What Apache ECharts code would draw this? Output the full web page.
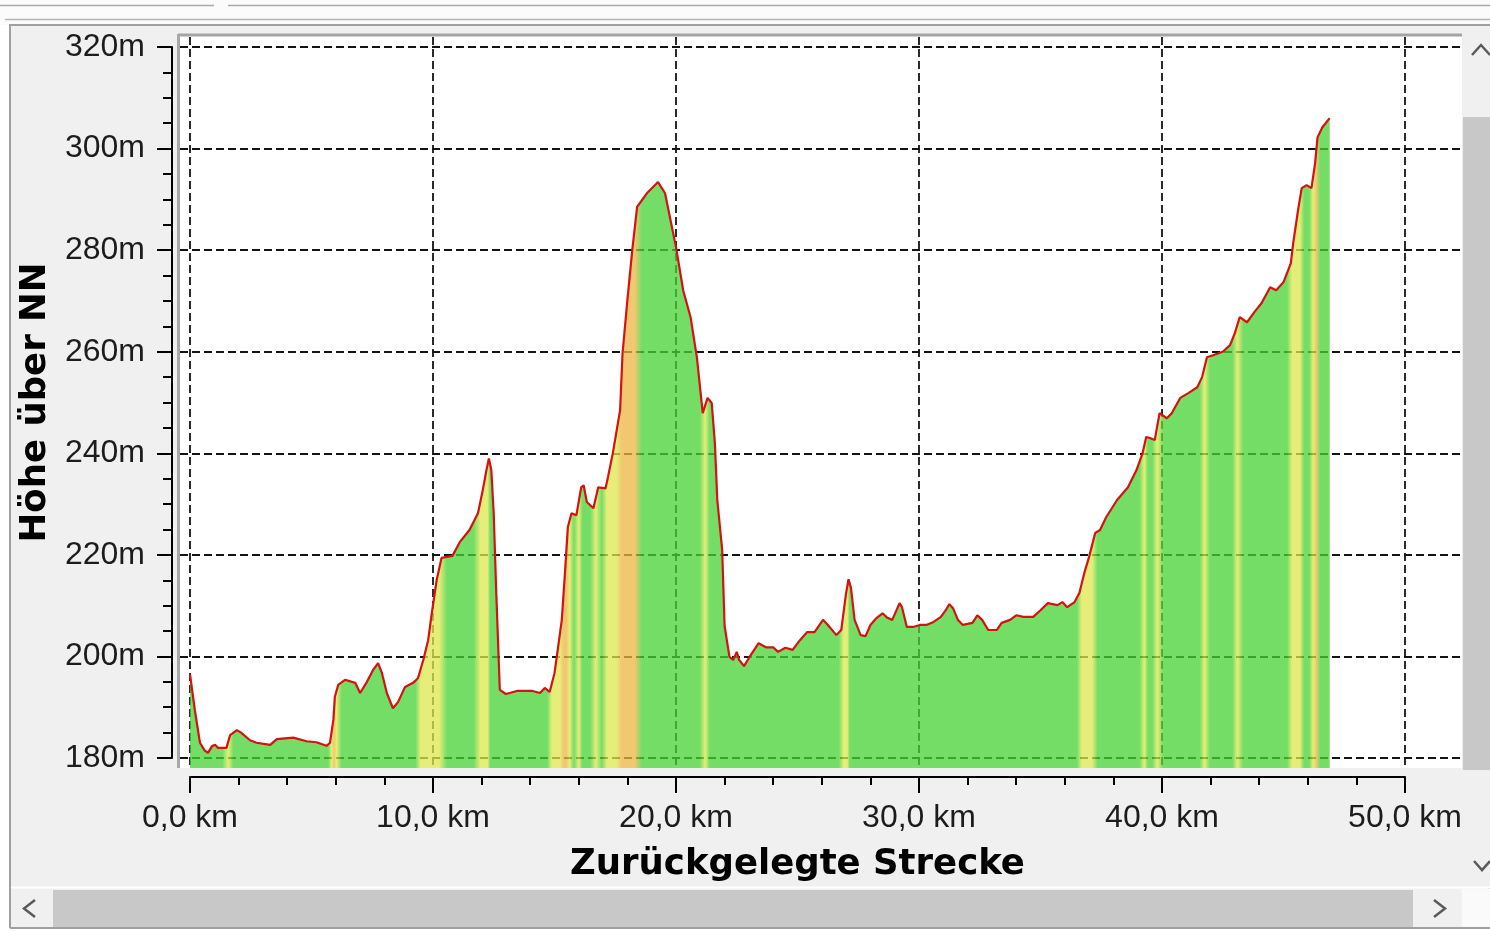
<!DOCTYPE html>
<html>
<head>
<meta charset="utf-8">
<title>Höhenprofil</title>
<script src="https://cdn.jsdelivr.net/npm/echarts@6/dist/echarts.min.js"></script>
<style>
  html, body { margin: 0; padding: 0; background: #fff; }
  #chart { width: 1490px; height: 931px; }
</style>
</head>
<body>
<div id="chart"></div>
<script>
// Streckenprofil: zurückgelegte Strecke (km) und Höhe über NN (m)
const distKm = [
  0.0, 0.2, 0.41, 0.6, 0.74, 0.9, 1.03, 1.16, 1.5, 1.65, 1.93, 2.1, 2.47, 2.74, 3.3, 3.57,
  4.25, 4.8, 5.2, 5.62, 5.76, 5.9, 5.96, 6.1, 6.38, 6.8, 7.0, 7.28, 7.53, 7.74, 7.9, 8.1,
  8.35, 8.56, 8.85, 9.18, 9.38, 9.6, 9.8, 9.95, 10.15, 10.35, 10.8, 11.1, 11.5, 11.85, 12.05, 12.2,
  12.3, 12.4, 12.5, 12.6, 12.75, 13.0, 13.45, 14.1, 14.4, 14.6, 14.8, 15.0, 15.15, 15.3, 15.43, 15.55,
  15.7, 15.9, 16.1, 16.2, 16.33, 16.6, 16.8, 17.1, 17.2, 17.4, 17.7, 17.8, 18.0, 18.2, 18.4, 18.8,
  19.26, 19.55, 19.8, 20.0, 20.3, 20.6, 20.86, 21.1, 21.3, 21.47, 21.6, 21.7, 21.9, 22.0, 22.2, 22.35,
  22.5, 22.6, 22.8, 23.0, 23.4, 23.7, 24.0, 24.2, 24.5, 24.8, 25.1, 25.4, 25.7, 26.05, 26.25, 26.6,
  26.8, 27.0, 27.1, 27.2, 27.35, 27.6, 27.8, 28.0, 28.26, 28.5, 28.7, 28.9, 29.2, 29.3, 29.5, 29.75,
  30.04, 30.3, 30.6, 30.9, 31.1, 31.25, 31.4, 31.6, 31.8, 32.2, 32.4, 32.6, 32.85, 33.2, 33.4, 33.75,
  34.0, 34.3, 34.7, 35.0, 35.3, 35.7, 35.9, 36.1, 36.4, 36.6, 36.8, 37.0, 37.25, 37.45, 37.7, 38.15,
  38.6, 38.95, 39.2, 39.35, 39.5, 39.7, 39.9, 40.2, 40.4, 40.75, 41.1, 41.45, 41.65, 41.85, 42.1, 42.5,
  42.8, 43.0, 43.2, 43.5, 43.8, 44.1, 44.45, 44.7, 45.0, 45.3, 45.4, 45.6, 45.75, 45.95, 46.15, 46.3,
  46.4, 46.6, 46.9
];
const elevM = [
  196.5, 189.4, 183.0, 181.5, 181.0, 182.3, 182.6, 182.0, 182.0, 184.5, 185.5, 185.0, 183.5, 183.0, 182.6, 183.7,
  184.0, 183.3, 183.1, 182.4, 183.0, 187.5, 192.0, 194.4, 195.4, 194.8, 192.8, 195.0, 197.3, 198.7, 196.7, 192.8,
  189.8, 191.0, 194.0, 194.8, 195.7, 199.3, 203.2, 208.5, 215.0, 219.4, 219.8, 222.5, 224.9, 228.2, 232.8, 236.7,
  239.0, 236.7, 228.0, 213.0, 193.4, 192.6, 193.2, 193.2, 192.8, 193.8, 193.0, 196.7, 201.9, 207.2, 216.4, 225.5,
  228.2, 227.8, 233.3, 233.7, 230.4, 229.2, 233.3, 233.1, 235.3, 240.0, 248.5, 259.7, 270.2, 280.0, 288.5, 291.2,
  293.4, 291.2, 285.3, 280.6, 272.0, 266.8, 258.9, 247.9, 250.9, 249.9, 242.0, 230.8, 221.0, 206.0, 199.9, 199.3,
  200.9, 199.3, 198.1, 199.7, 202.6, 201.8, 201.8, 200.9, 201.7, 201.3, 203.2, 204.8, 204.8, 207.2, 206.2, 204.2,
  205.2, 212.5, 215.2, 213.5, 207.2, 204.2, 204.0, 206.2, 207.6, 208.5, 207.6, 207.2, 210.5, 209.7, 205.8, 205.8,
  206.2, 206.2, 206.8, 207.8, 209.1, 210.3, 209.5, 207.2, 206.2, 206.6, 208.1, 207.2, 205.2, 205.2, 206.6, 207.2,
  208.1, 207.8, 207.8, 209.1, 210.5, 210.1, 210.7, 209.7, 210.7, 212.5, 216.4, 219.6, 224.3, 224.9, 227.4, 230.8,
  233.3, 236.7, 240.0, 243.2, 243.0, 242.6, 247.9, 246.9, 247.9, 250.9, 251.9, 253.0, 255.0, 258.9, 259.3, 260.0,
  261.3, 263.7, 266.8, 265.8, 267.8, 269.6, 272.7, 272.1, 273.7, 277.4, 281.4, 287.9, 292.2, 292.8, 292.2, 297.1,
  302.2, 304.2, 306.0
];
// Achsen
const xRange = [0, 50];
const xStep = 10;
const yRange = [180, 320];
const yStep = 20;

// Pixel-Layout des Diagramms
const plotLeft = 180, plotRight = 1462, plotTop = 37, plotBottom = 768;
const x0px = 190, x50px = 1405, yTopPx = 47, yBottomPx = 758;
const pxPerM = (yBottomPx - yTopPx) / (yRange[1] - yRange[0]);
const dataYMin = yRange[0] - (plotBottom - yBottomPx) / pxPerM;
const dataYMax = yRange[1] + (yTopPx - plotTop) / pxPerM;

// Farbe der Fläche nach Steigung (%)
function gradeColor(g) {
  if (g > 4) return '#ecb640';
  if (g > 1.5) return '#dde84c';
  return '#46d232';
}
const xEnd = distKm[distKm.length - 1];
const stops = [];
for (let i = 0; i < distKm.length - 1; i++) {
  const grade = (elevM[i + 1] - elevM[i]) / ((distKm[i + 1] - distKm[i]) * 1000) * 100;
  const c = gradeColor(grade);
  if (i === 0) stops.push({ offset: 0, color: c });
  stops.push({ offset: ((distKm[i] + distKm[i + 1]) / 2) / xEnd, color: c });
  if (i === distKm.length - 2) stops.push({ offset: 1, color: c });
}

const fmtKm = v => v.toFixed(1).replace('.', ',') + ' km';
const labelFont = { fontFamily: 'Liberation Sans', fontSize: 32, color: '#1c1c1c' };
const nameFont = { fontFamily: 'DejaVu Sans', fontWeight: 'bold', fontSize: 35.5, color: '#000' };
const dash = { color: '#141414', width: 1.8, type: [8, 4] };

const chevron = (pts) => ({
  type: 'polyline', z: 101,
  shape: { points: pts },
  style: { stroke: '#5a5a5a', lineWidth: 2.5, fill: null }
});

const chrome = [
  // Fensterrahmen oben
  { type: 'rect', z: -2, shape: { x: 0, y: 0, width: 1490, height: 25 }, style: { fill: '#fbfbfb' } },
  { type: 'line', z: -1, shape: { x1: 0, y1: 5.5, x2: 214, y2: 5.5 }, style: { stroke: '#a8a8a8', lineWidth: 1.5 } },
  { type: 'line', z: -1, shape: { x1: 228, y1: 5.5, x2: 1490, y2: 5.5 }, style: { stroke: '#a8a8a8', lineWidth: 1.5 } },
  { type: 'line', z: -1, shape: { x1: 5, y1: 19.5, x2: 1490, y2: 19.5 }, style: { stroke: '#b4b4b4', lineWidth: 1.5 } },
  // Panel
  { type: 'rect', z: -2, shape: { x: 10, y: 25, width: 1480, height: 903 }, style: { fill: '#f0f0f0', stroke: '#a0a0a0', lineWidth: 2 } },
  // weiße Zeichenfläche
  { type: 'rect', z: -1, shape: { x: plotLeft, y: 35, width: plotRight - plotLeft, height: plotBottom - 35 }, style: { fill: '#ffffff' } },
  { type: 'line', z: -1, shape: { x1: 178, y1: 35, x2: plotRight, y2: 35 }, style: { stroke: '#a4a4a4', lineWidth: 3 } },
  { type: 'line', z: -1, shape: { x1: 178.5, y1: 34, x2: 178.5, y2: plotBottom }, style: { stroke: '#a8a8a8', lineWidth: 3 } },
  // vertikale Bildlaufleiste
  { type: 'rect', z: 100, shape: { x: 1462, y: 26, width: 28, height: 862 }, style: { fill: '#f0f0f0' } },
  { type: 'rect', z: 100, shape: { x: 1463, y: 117, width: 27, height: 653 }, style: { fill: '#c8c8c8' } },
  chevron([[1472, 55], [1481, 45], [1490, 55]]),
  chevron([[1474, 861], [1482, 870], [1490, 861]]),
  // horizontale Bildlaufleiste
  { type: 'line', z: 100, shape: { x1: 11, y1: 887.5, x2: 1490, y2: 887.5 }, style: { stroke: '#ffffff', lineWidth: 2 } },
  { type: 'rect', z: 100, shape: { x: 11, y: 889, width: 1451, height: 38 }, style: { fill: '#f0f0f0' } },
  { type: 'rect', z: 100, shape: { x: 53, y: 890, width: 1360, height: 37 }, style: { fill: '#c8c8c8' } },
  { type: 'rect', z: 100, shape: { x: 1462, y: 889, width: 28, height: 38 }, style: { fill: '#fafafa' } },
  chevron([[35, 900], [24, 908.5], [35, 917]]),
  chevron([[1434, 900], [1445, 908.5], [1434, 917]]),
  { type: 'rect', z: 100, shape: { x: 0, y: 928, width: 1490, height: 3 }, style: { fill: '#ffffff' } },
  { type: 'line', z: 100, shape: { x1: 10, y1: 928, x2: 1490, y2: 928 }, style: { stroke: '#a0a0a0', lineWidth: 2 } }
];

const chart = echarts.init(document.getElementById('chart'));
chart.setOption({
  backgroundColor: '#ffffff',
  animation: false,
  graphic: chrome,
  grid: [
    { left: plotLeft, right: 1490 - plotRight, top: yTopPx, bottom: 931 - yBottomPx },
    { left: x0px, right: 1490 - x50px, top: plotTop, bottom: 931 - plotBottom }
  ],
  xAxis: [
    { gridIndex: 0, type: 'value', min: 0, max: 1, show: false },
    {
      gridIndex: 1, type: 'value', min: xRange[0], max: xRange[1], interval: xStep,
      position: 'bottom', offset: 9,
      name: 'Zurückgelegte Strecke', nameLocation: 'middle', nameGap: 70, nameTextStyle: nameFont,
      axisLine: { show: true, onZero: false, lineStyle: { color: '#000', width: 2 } },
      axisTick: { show: true, inside: false, length: 16, lineStyle: { color: '#000', width: 2 } },
      minorTick: { show: true, splitNumber: 5, length: 8, lineStyle: { color: '#000', width: 2 } },
      axisLabel: Object.assign({ margin: 25, formatter: fmtKm }, labelFont),
      splitLine: { show: true, lineStyle: dash }
    }
  ],
  yAxis: [
    {
      gridIndex: 0, type: 'value', min: yRange[0], max: yRange[1], interval: yStep,
      position: 'left', offset: 8,
      name: 'Höhe über NN', nameLocation: 'middle', nameRotate: 90, nameGap: 114, nameTextStyle: nameFont,
      axisLine: { show: true, onZero: false, lineStyle: { color: '#000', width: 2 } },
      axisTick: { show: true, inside: false, length: 15, lineStyle: { color: '#000', width: 2 } },
      minorTick: { show: true, splitNumber: 4, length: 9, lineStyle: { color: '#000', width: 2 } },
      axisLabel: Object.assign({ margin: 27, formatter: '{value}m' }, labelFont),
      splitLine: { show: true, lineStyle: dash }
    },
    { gridIndex: 1, type: 'value', min: dataYMin, max: dataYMax, show: false }
  ],
  series: [{
    type: 'line',
    xAxisIndex: 1,
    yAxisIndex: 1,
    data: distKm.map((d, i) => [d, elevM[i]]),
    showSymbol: false,
    lineStyle: { color: '#d41212', width: 2.2 },
    areaStyle: {
      origin: 'start',
      opacity: 0.75,
      color: { type: 'linear', x: 0, y: 0, x2: 1, y2: 0, colorStops: stops }
    }
  }]
});
</script>
</body>
</html>
